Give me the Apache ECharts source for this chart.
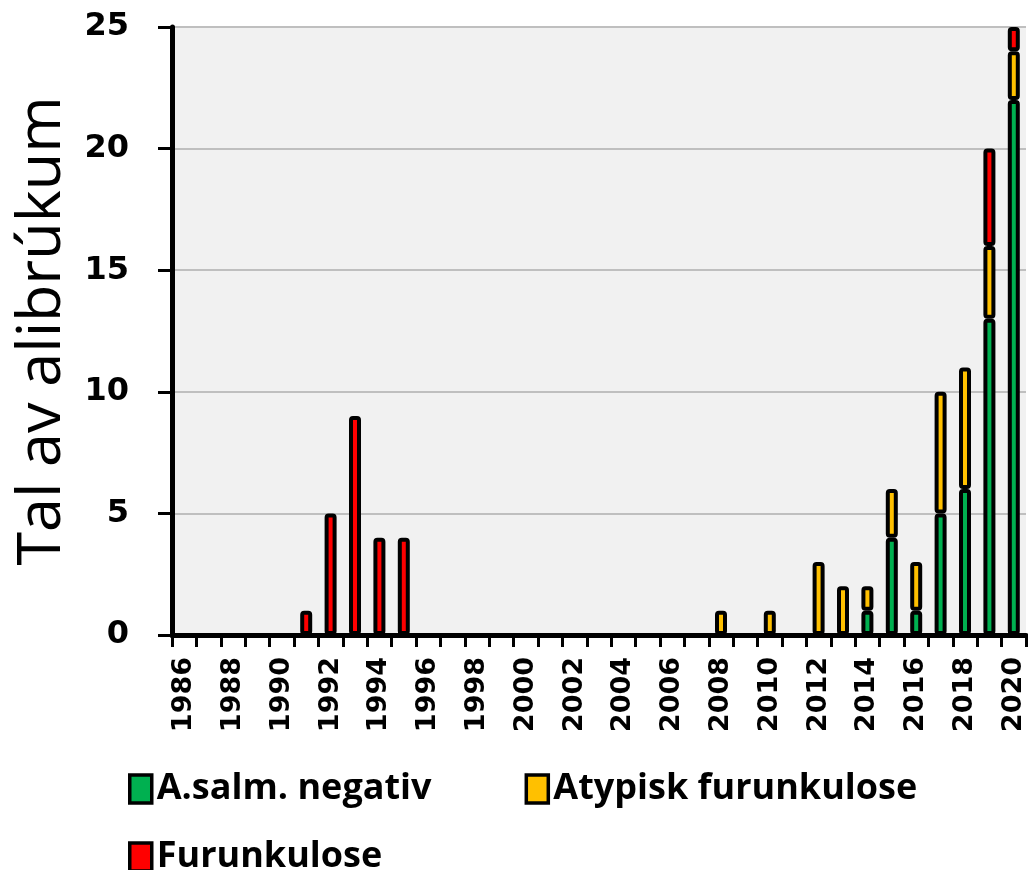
<!DOCTYPE html>
<html>
<head>
<meta charset="utf-8">
<script src="https://cdn.jsdelivr.net/npm/echarts@6/dist/echarts.min.js"></script>
<style>
  html, body { margin: 0; padding: 0; background: #ffffff; }
  #chart_1 { width: 1028px; height: 870px; }
</style>
</head>
<body>
<div id="chart_1"></div>
<script>
var years = ['1986', '1987', '1988', '1989', '1990', '1991', '1992', '1993', '1994', '1995',
  '1996', '1997', '1998', '1999', '2000', '2001', '2002', '2003', '2004', '2005',
  '2006', '2007', '2008', '2009', '2010', '2011', '2012', '2013', '2014', '2015',
  '2016', '2017', '2018', '2019', '2020'];

// A.salm. negativ
var negativ = [null, null, null, null, null, null, null, null, null, null,
  null, null, null, null, null, null, null, null, null, null,
  null, null, null, null, null, null, null, null, 1, 4,
  1, 5, 6, 13, 22];

// Atypisk furunkulose
var atypisk = [null, null, null, null, null, null, null, null, null, null,
  null, null, null, null, null, null, null, null, null, null,
  null, null, 1, null, 1, null, 3, 2, 1, 2,
  2, 5, 5, 3, 2];

// Furunkulose
var furunkulose = [null, null, null, null, null, 1, 5, 9, 4, 4,
  null, null, null, null, null, null, null, null, null, null,
  null, null, null, null, null, null, null, null, null, null,
  null, null, null, 4, 1];

var yTicks = { min: 0, max: 25, interval: 5 };

var dom = document.getElementById("chart_1");
var myChart = echarts.init(dom);

var barStyle = function (color) {
  return {
    color: color,
    borderColor: '#000000',
    borderWidth: 4,
    borderRadius: 2
  };
};

var legendText = {
  fontFamily: 'Open Sans',
  fontWeight: 'bold',
  fontSize: 36,
  color: '#000000'
};

var option = {
  backgroundColor: '#ffffff',
  animation: false,
  grid: {
    left: 172,
    right: 2,
    top: 27,
    bottom: 235,
    outerBoundsMode: 'none',
    show: true,
    backgroundColor: '#f1f1f1',
    borderWidth: 0
  },
  legend: [
    {
      data: ['A.salm. negativ', 'Atypisk furunkulose'],
      left: 123,
      top: 766,
      itemWidth: 22,
      itemHeight: 28,
      itemGap: 93,
      icon: 'rect',
      itemStyle: { borderColor: '#000000', borderWidth: 3.5 },
      textStyle: legendText
    },
    {
      data: ['Furunkulose'],
      left: 123,
      top: 834,
      itemWidth: 22,
      itemHeight: 28,
      icon: 'rect',
      itemStyle: { borderColor: '#000000', borderWidth: 3.5 },
      textStyle: legendText
    }
  ],
  xAxis: {
    type: 'category',
    data: years,
    boundaryGap: true,
    axisLine: { lineStyle: { color: '#000000', width: 5 } },
    axisTick: {
      show: true,
      interval: 0,
      length: 12,
      lineStyle: { color: '#000000', width: 3 }
    },
    axisLabel: {
      interval: 1,
      rotate: 90,
      margin: 22,
      fontFamily: 'DejaVu Sans',
      fontWeight: 'bold',
      fontSize: 27,
      color: '#000000'
    },
    splitLine: { show: false }
  },
  yAxis: {
    type: 'value',
    min: yTicks.min,
    max: yTicks.max,
    interval: yTicks.interval,
    name: 'Tal av alibrúkum',
    nameLocation: 'middle',
    nameGap: 96,
    nameTextStyle: {
      fontFamily: 'Open Sans',
      fontSize: 61,
      color: '#000000'
    },
    axisLine: { show: true, lineStyle: { color: '#000000', width: 5 } },
    axisTick: {
      show: true,
      length: 14,
      lineStyle: { color: '#000000', width: 3 }
    },
    axisLabel: {
      margin: 43,
      fontFamily: 'DejaVu Sans',
      fontWeight: 'bold',
      fontSize: 32,
      color: '#000000'
    },
    splitLine: { lineStyle: { color: '#bfbfbf', width: 2 } }
  },
  series: [
    {
      name: 'A.salm. negativ',
      type: 'bar',
      stack: 'total',
      barWidth: 12,
      data: negativ,
      itemStyle: barStyle('#00b050')
    },
    {
      name: 'Atypisk furunkulose',
      type: 'bar',
      stack: 'total',
      barWidth: 12,
      data: atypisk,
      itemStyle: barStyle('#ffc000')
    },
    {
      name: 'Furunkulose',
      type: 'bar',
      stack: 'total',
      barWidth: 12,
      data: furunkulose,
      itemStyle: barStyle('#ff0000')
    }
  ]
};

if (option && typeof option === "object") {
  myChart.setOption(option, true);
}
</script>
</body>
</html>
